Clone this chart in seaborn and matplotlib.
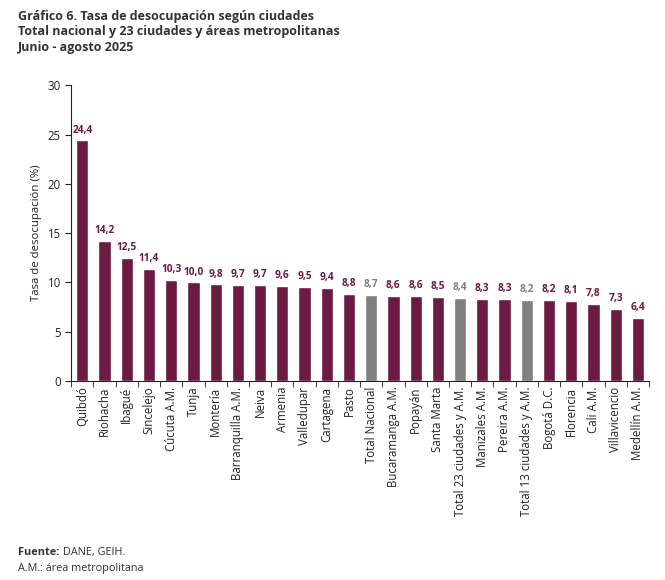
import matplotlib
matplotlib.use("Agg")
import matplotlib.pyplot as plt
import seaborn as sns
import pandas as pd
import numpy as np

categories = ["Quibdó", "Riohacha", "Ibagué", "Sincelejo", "Cúcuta A.M.", "Tunja", "Montería",
              "Barranquilla A.M.", "Neiva", "Armenia", "Valledupar", "Cartagena", "Pasto",
              "Total Nacional", "Bucaramanga A.M.", "Popayán", "Santa Marta",
              "Total 23 ciudades y A.M.", "Manizales A.M.", "Pereira A.M.",
              "Total 13 ciudades y A.M.", "Bogotá D.C.", "Florencia", "Cali A.M.",
              "Villavicencio", "Medellín A.M."]
values = [24.4, 14.2, 12.5, 11.4, 10.3, 10.0, 9.8, 9.7, 9.7, 9.6, 9.5, 9.4, 8.8,
          8.7, 8.6, 8.6, 8.5, 8.4, 8.3, 8.3, 8.2, 8.2, 8.1, 7.8, 7.3, 6.4]
totals = ["Total Nacional", "Total 23 ciudades y A.M.", "Total 13 ciudades y A.M."]

MAROON = "#6B1A42"
GRAY = "#808080"
colors = [GRAY if c in totals else MAROON for c in categories]

sns.set_style("white")
plt.rcParams['font.family'] = ['Open Sans', 'DejaVu Sans']

df = pd.DataFrame({"cat": categories, "val": values})

fig = plt.figure(figsize=(6.65, 5.8), dpi=100)
ax = fig.add_axes([0.107, 0.343, 0.869, 0.510])
sns.barplot(data=df, x="cat", y="val", hue="cat", palette=colors, legend=False,
            width=0.55, ax=ax, saturation=1)

for i, (v, c) in enumerate(zip(values, colors)):
    ax.text(i, v + 0.5, f"{v:.1f}".replace(".", ","), ha="center", va="bottom",
            fontsize=7.3, fontweight="bold", color=c)

ax.set_xlim(-0.5, len(categories) - 0.5)
ax.set_ylim(0, 30)
ax.set_yticks([0, 5, 10, 15, 20, 25, 30])
ax.set_ylabel("Tasa de desocupación (%)", fontsize=8.2, color="#222222")
ax.set_xlabel("")
ax.set_xticks(np.arange(len(categories)))
ax.set_xticklabels(categories, rotation=90, fontsize=8.3, color="#222222")
ax.set_xticks(np.arange(-0.5, len(categories), 1), minor=True)
ax.tick_params(axis="x", which="major", length=0, pad=4)
ax.tick_params(axis="x", which="minor", length=4, direction="out", color="#222222", bottom=True)
ax.tick_params(axis="y", length=4, direction="out", labelsize=8.3, color="#222222", left=True, labelcolor="#222222")
for s in ["top", "right"]:
    ax.spines[s].set_visible(False)
for s in ["left", "bottom"]:
    ax.spines[s].set_color("#222222")
    ax.spines[s].set_linewidth(0.8)

fig.text(0.027, 0.983, "Gráfico 6. Tasa de desocupación según ciudades\n"
         "Total nacional y 23 ciudades y áreas metropolitanas\n"
         "Junio - agosto 2025", ha="left", va="top", fontsize=9.0, fontweight="bold",
         color="#333333", linespacing=1.25)
t = fig.text(0.027, 0.047, "Fuente:", ha="left", va="center", fontsize=7.8,
             fontweight="bold", color="#333333")
fig.canvas.draw()
bb = t.get_window_extent()
fig.text(bb.x1 / fig.bbox.width + 0.005, 0.047, "DANE, GEIH.", ha="left", va="center",
         fontsize=7.8, color="#333333")
fig.text(0.027, 0.020, "A.M.: área metropolitana", ha="left", va="center", fontsize=7.8, color="#333333")

fig.savefig("out.png", dpi=100)
